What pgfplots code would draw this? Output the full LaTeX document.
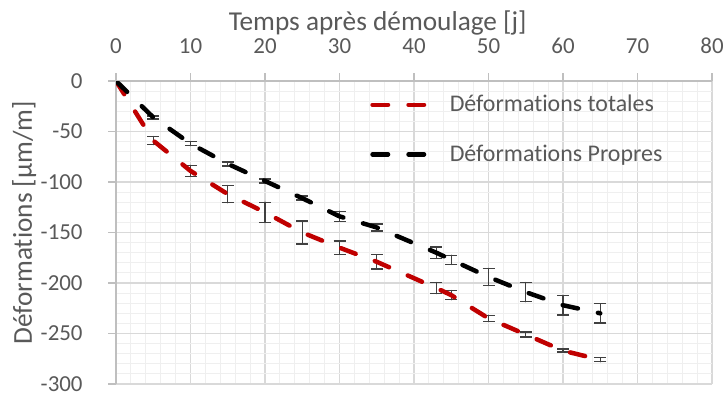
\documentclass[border=0pt]{standalone}
\usepackage{fontspec}
\setmainfont{Carlito}[Ligatures=NoCommon]
\usepackage{pgfplots}
\pgfplotsset{compat=1.18}
\usepackage{pgfplotstable}

\definecolor{txt}{HTML}{595959}
\definecolor{axl}{HTML}{BFBFBF}
\definecolor{majg}{HTML}{D9D9D9}
\definecolor{ming}{HTML}{EFEFEF}
\definecolor{rouge}{HTML}{C00000}
\definecolor{errc}{HTML}{404040}

% deformations totales : t, valeur, ecart
\pgfplotstableread{
t   d     e
0   0     0
5   -59   4
10  -89   5.5
15  -112  8.5
20  -130  10
25  -150  11.5
30  -165  6.5
35  -179  7
43  -205  5.5
45  -212  4.5
50  -235  3
55  -251  2.5
60  -267  1.5
65  -276  2
}\totales

% deformations propres
\pgfplotstableread{
t   d     e
0   0     0
5   -36   1.5
10  -62   2
15  -82   2
20  -99   2
25  -116  2
30  -134  5
35  -145  3.5
43  -170  5.5
45  -177  4.5
50  -194  8.5
55  -209  9.5
60  -222  9.5
65  -230  9.5
}\propres

\begin{document}
\begin{tikzpicture}
\begin{axis}[
  scale only axis, width=298bp, height=151.5bp,
  xmin=0, xmax=80, ymin=-300, ymax=0,
  axis x line*=top, axis y line*=left,
  axis line style={axl, line width=0.6bp},
  xtick distance=10, ytick distance=50,
  minor x tick num=4, minor y tick num=4,
  grid=both,
  major grid style={majg, line width=0.6bp},
  minor grid style={ming, line width=0.5bp},
  tick align=outside, major tick length=4bp, minor tick length=0pt,
  tick style={axl, line width=0.6bp},
  /pgf/number format/assume math mode=true,
  ticklabel style={font=\fontsize{11.5}{13}\selectfont, text=txt},
  xticklabel style={anchor=base, yshift=10bp, inner sep=0pt},
  yticklabel style={anchor=east, xshift=-12.5bp, inner sep=0pt},
  xlabel={Temps après démoulage [j]},
  ylabel={Déformations [µm/m]},
  label style={font=\fontsize{13.7}{15}\selectfont, text=txt},
  xlabel style={at={(axis description cs:0.439,1)}, anchor=center, yshift=29bp},
  ylabel style={at={(axis description cs:-0.154,0.532)}, anchor=center},
  legend style={at={(axis description cs:0.426,0.968)}, anchor=north west,
    draw=none, fill=none, font=\fontsize{12}{14}\selectfont, text=txt,
    row sep=11bp, column sep=7bp, inner sep=0pt},
  legend cell align=left,
  legend image code/.code={\draw[#1] (0bp,0bp) -- (28.5bp,0bp);},
  every axis plot/.append style={line width=2.25bp, line cap=round,
    dash pattern=on 7.75bp off 10.25bp},
]
\addplot[errc, draw=none, mark=none, forget plot, solid, line width=0.7bp,
  skip coords between index={0}{1},
  error bars/.cd, y dir=both, y explicit,
  error bar style={errc, line width=0.7bp, solid},
  error mark options={rotate=90, mark size=3bp, errc, line width=0.7bp, solid}]
  table[x=t, y=d, y error=e] {\totales};
\addplot[errc, draw=none, mark=none, forget plot, solid, line width=0.7bp,
  skip coords between index={0}{1},
  error bars/.cd, y dir=both, y explicit,
  error bar style={errc, line width=0.7bp, solid},
  error mark options={rotate=90, mark size=3bp, errc, line width=0.7bp, solid}]
  table[x=t, y=d, y error=e] {\propres};
\addplot[rouge, mark=none] table[x=t, y=d] {\totales};
\addplot[black, mark=none] table[x=t, y=d] {\propres};
\legend{Déformations totales, Déformations Propres}
\end{axis}
\pgfresetboundingbox
\path (current axis.south west) ++(-58bp,-5bp) coordinate (bl);
\useasboundingbox (bl) rectangle ([xshift=7.5bp, yshift=40.5bp]current axis.north east);
\end{tikzpicture}
\end{document}
